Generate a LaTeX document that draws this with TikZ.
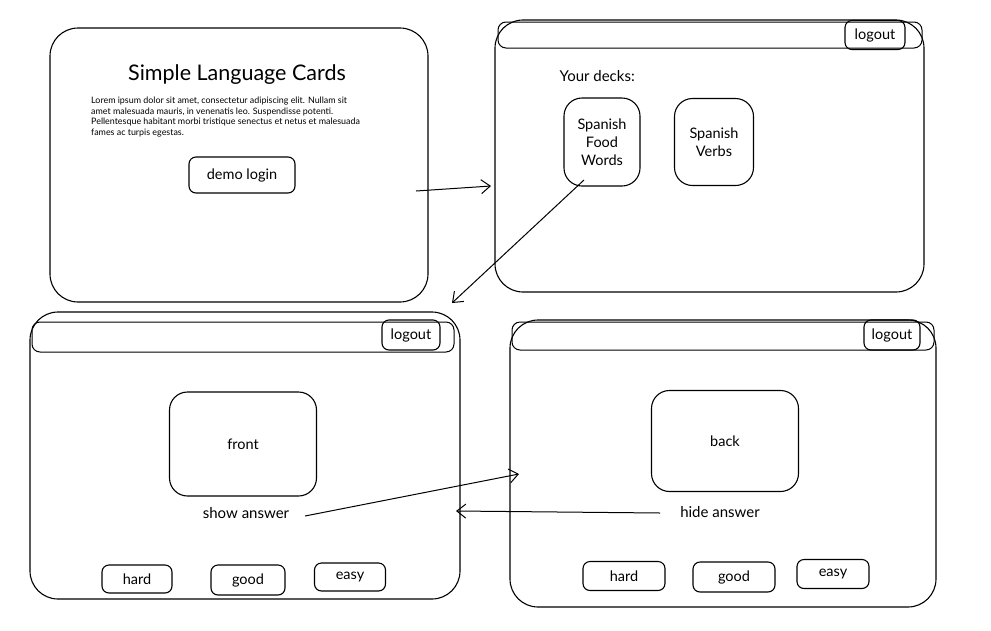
\documentclass[tikz,border=0pt]{standalone}
\usepackage{fontspec}
\setmainfont{Lato}
\usetikzlibrary{arrows.meta}
\begin{document}
\begin{tikzpicture}[x=1pt,y=-1pt,
  frame/.style={draw, line width=1.1pt, rounded corners=28pt},
  bar/.style={draw, line width=1pt, rounded corners=8pt},
  btn/.style={draw, line width=1.1pt, rounded corners=7pt, font=\fontsize{14.5}{16}\selectfont},
  card/.style={draw, line width=1.1pt, rounded corners=18pt, font=\fontsize{14.5}{18}\selectfont, align=center},
  lbl/.style={font=\fontsize{15}{17}\selectfont},
  flow/.style={draw, line width=1pt, -{Straight Barb[length=9pt,width=14pt,line width=1pt]}}]
\useasboundingbox (0,0) rectangle (991,630);
\fill[white] (0,0) rectangle (991,630);
% Frame 1
\draw[frame] (50,28) rectangle (428,302);
\node (title) at (237,75) {\fontsize{21.5}{24}\selectfont Simple Language Cards};
\node[anchor=north west, align=left, inner sep=0pt, font=\fontsize{8.9}{10.6}\selectfont] (lorem) at (91,97)
 {Lorem ipsum dolor sit amet, consectetur adipiscing elit. Nullam sit\\
  amet malesuada mauris, in venenatis leo. Suspendisse potenti.\\
  Pellentesque habitant morbi tristique senectus et netus et malesuada\\
  fames ac turpis egestas.};
\node[btn, minimum width=106pt, minimum height=36pt] (demo) at (242,175) {demo login};
% Frame 2
\draw[frame] (495,20) rectangle (924,292);
\draw[bar] (498,22) rectangle (922,48);
\node[btn, minimum width=60pt, minimum height=29pt] (lo2) at (875,35) {logout};
\node[lbl, anchor=west] (decks) at (556,76) {Your decks:};
\node[card, minimum width=76pt, minimum height=88pt] (d1) at (602,142) {Spanish\\Food\\Words};
\node[card, minimum width=79pt, minimum height=87pt] (d2) at (714,142) {Spanish\\Verbs};
% Frame 3
\draw[frame] (30,312) rectangle (460,599);
\draw[bar] (32,322) rectangle (454,352);
\node[btn, minimum width=58pt, minimum height=30pt] (lo3) at (411,335) {logout};
\node[card, minimum width=147pt, minimum height=104pt] (front) at (243,444) {front};
\node[lbl] (show) at (246,513) {show answer};
\node[btn, minimum width=70pt, minimum height=28pt] (h3) at (137,579) {hard};
\node[btn, minimum width=74pt, minimum height=30pt] (g3) at (248,580) {good};
\node[btn, minimum width=71pt, minimum height=28pt] (e3) at (350,577) {easy};
% Frame 4
\draw[frame] (510,320) rectangle (936,607);
\draw[bar] (512,322) rectangle (934,350);
\node[btn, minimum width=56pt, minimum height=30pt] (lo4) at (892,335) {logout};
\node[card, minimum width=147pt, minimum height=101pt] (back) at (725,441) {back};
\node[lbl] (hide) at (720,512) {hide answer};
\node[btn, minimum width=82pt, minimum height=29pt] (h4) at (624,576) {hard};
\node[btn, minimum width=82pt, minimum height=30pt] (g4) at (734,577) {good};
\node[btn, minimum width=72pt, minimum height=29pt] (e4) at (833,574) {easy};
% Connectors
\coordinate (a1s) at (416,191);
\coordinate (a1e) at (491,186);
\draw[flow] (a1s) -- (a1e);
\coordinate (a2s) at (584,180);
\coordinate (a2e) at (452,303);
\draw[flow] (a2s) -- (a2e);
\coordinate (a3s) at (305,516);
\coordinate (a3e) at (519,474);
\draw[flow] (a3s) -- (a3e);
\coordinate (a4s) at (660,513);
\coordinate (a4e) at (456,511);
\draw[flow] (a4s) -- (a4e);
\end{tikzpicture}
\end{document}
